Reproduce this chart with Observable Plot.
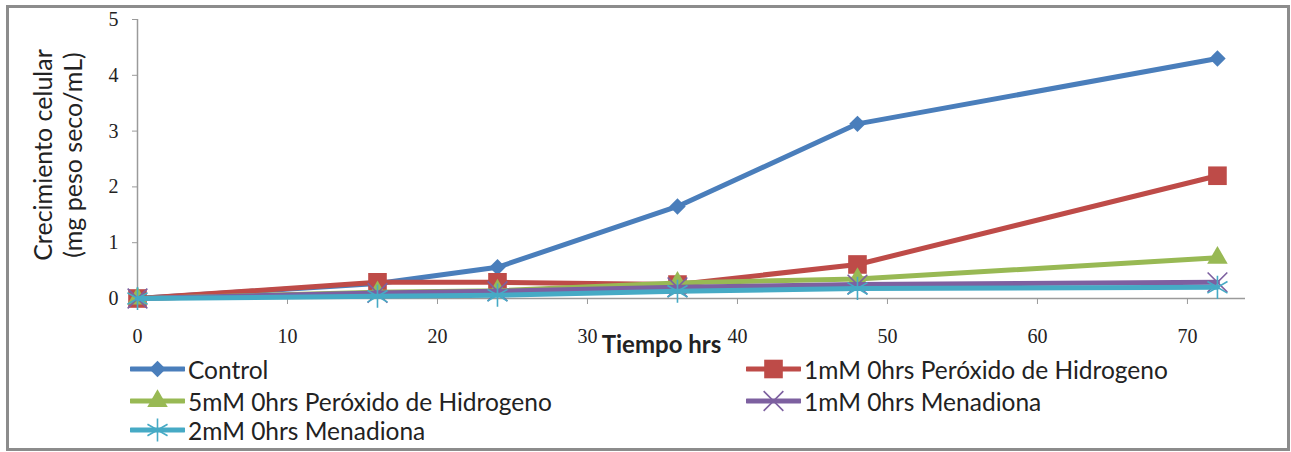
<!DOCTYPE html>
<html>
<head>
<meta charset="utf-8">
<script src="https://cdn.jsdelivr.net/npm/d3@7"></script>
<script src="https://cdn.jsdelivr.net/npm/@observablehq/plot@0.6"></script>
<style>
  body { margin: 0; background: #fff; }
  #wrap { position: relative; width: 1291px; height: 452px; overflow: hidden; background: #fff; }
  #frame { position: absolute; left: 6px; top: 5px; width: 1284px; height: 446px; border: 3px solid #8c8c8c; box-sizing: border-box; pointer-events: none; }
  #chart { position: absolute; left: 0; top: 0; }
  .leg { position: absolute; display: flex; align-items: center; font-family: Lato, sans-serif; font-size: 24.5px; color: #222; white-space: nowrap; height: 26px; }
  .leg svg { margin-right: 3px; }
</style>
</head>
<body>
<div id="wrap">
  <div id="chart"></div>
  <div id="legend"></div>
  <div id="frame"></div>
</div>
<script>
// ---- data ----
const hours = [0, 16, 24, 36, 48, 72];
const seriesNames = [
  "Control",
  "1mM 0hrs Peróxido de Hidrogeno",
  "5mM 0hrs Peróxido de Hidrogeno",
  "1mM 0hrs Menadiona",
  "2mM 0hrs Menadiona"
];
const control   = [0, 0.27, 0.56, 1.65, 3.13, 4.30];
const peroxido1 = [0, 0.29, 0.29, 0.25, 0.61, 2.20];
const peroxido5 = [0, 0.11, 0.14, 0.28, 0.35, 0.73];
const menadiona1 = [0, 0.10, 0.13, 0.20, 0.25, 0.29];
const menadiona2 = [0, 0.04, 0.06, 0.13, 0.18, 0.20];
const xTicks = [0, 10, 20, 30, 40, 50, 60, 70];
const yTicks = [0, 1, 2, 3, 4, 5];
const xTitle = "Tiempo hrs";
const yTitle = "Crecimiento celular\n(mg peso seco/mL)";

// ---- styles ----
const colors = ["#4a7ebb", "#be4b48", "#98b954", "#7d60a0", "#46aac5"];
const symbols = ["diamond2", "square", "triangle", "times", "asterisk"];
const radii = [7.4, 10.5, 7.6, 9, 11];
const filled = [true, true, true, false, false];

const allValues = [control, peroxido1, peroxido5, menadiona1, menadiona2];
const rows = [];
allValues.forEach((vals, s) => vals.forEach((v, i) => rows.push({serie: seriesNames[s], s, t: hours[i], v})));

const marks = [
  Plot.ruleY([0], {x1: 0, x2: 73.87, stroke: "#9a9a9a", strokeWidth: 1.5}),
  Plot.ruleX([0], {y1: 0, y2: 5, stroke: "#9a9a9a", strokeWidth: 1.5}),
  Plot.axisX({ticks: xTicks, tickSize: 6, tickPadding: 24, stroke: "#9a9a9a", fill: "#222", fontFamily: "Liberation Serif", fontSize: 20, tickFormat: d => String(d), label: null}),
  Plot.axisY({ticks: yTicks, tickSize: 5, tickPadding: 14, stroke: "#9a9a9a", fill: "#222", fontFamily: "Liberation Serif", fontSize: 20, tickFormat: d => String(d), label: null}),
  Plot.text([yTitle], {text: d => d, frameAnchor: "left", textAnchor: "middle", lineAnchor: "middle", rotate: -90, dx: -80, dy: -4, lineHeight: 1.2, fontFamily: "Lato", fontSize: 25, fill: "#222"}),
  Plot.text([xTitle], {text: d => d, frameAnchor: "bottom", textAnchor: "middle", dx: -30, dy: 54, fontFamily: "Lato", fontWeight: "bold", fontSize: 24, fill: "#222"})
];
seriesNames.forEach((name, s) => {
  const data = rows.filter(d => d.s === s);
  marks.push(Plot.line(data, {x: "t", y: "v", stroke: colors[s], strokeWidth: 5}));
  marks.push(Plot.dot(data, filled[s]
    ? {x: "t", y: "v", symbol: () => symbols[s], r: radii[s], fill: colors[s], stroke: "none"}
    : {x: "t", y: "v", symbol: () => symbols[s], r: radii[s], stroke: colors[s], strokeWidth: 1.6, fill: "none"}));
});

const chart = Plot.plot({
  width: 1291,
  height: 452,
  marginTop: 19,
  marginBottom: 154,
  marginLeft: 137,
  marginRight: 46,
  x: {domain: [0, 73.87], axis: null},
  y: {domain: [0, 5], axis: null},
  symbol: {type: "identity"},
  style: {background: "transparent", overflow: "visible", fontFamily: "Liberation Serif"},
  marks
});
document.getElementById("chart").appendChild(chart);

// ---- legend ----
const legendPos = [
  {left: 130, top: 369}, {left: 746, top: 369},
  {left: 130, top: 401}, {left: 746, top: 401},
  {left: 130, top: 430}
];
const legend = document.getElementById("legend");
const symMap = {diamond2: d3.symbolDiamond2, square: d3.symbolSquare, triangle: d3.symbolTriangle, times: d3.symbolTimes, asterisk: d3.symbolAsterisk};
seriesNames.forEach((name, s) => {
  const div = document.createElement("div");
  div.className = "leg";
  div.style.left = legendPos[s].left + "px";
  div.style.top = (legendPos[s].top - 13) + "px";
  const path = d3.symbol(symMap[symbols[s]], Math.PI * radii[s] * radii[s])();
  const svg = `<svg width="55" height="26" viewBox="0 0 55 26"><line x1="1" x2="54" y1="13" y2="13" stroke="${colors[s]}" stroke-width="5" stroke-linecap="round"/>` +
    `<path transform="translate(27.5,13)" d="${path}" ${filled[s] ? `fill="${colors[s]}"` : `fill="none" stroke="${colors[s]}" stroke-width="1.6"`}/></svg>`;
  div.innerHTML = svg + `<span>${name}</span>`;
  legend.appendChild(div);
});
</script>
</body>
</html>
